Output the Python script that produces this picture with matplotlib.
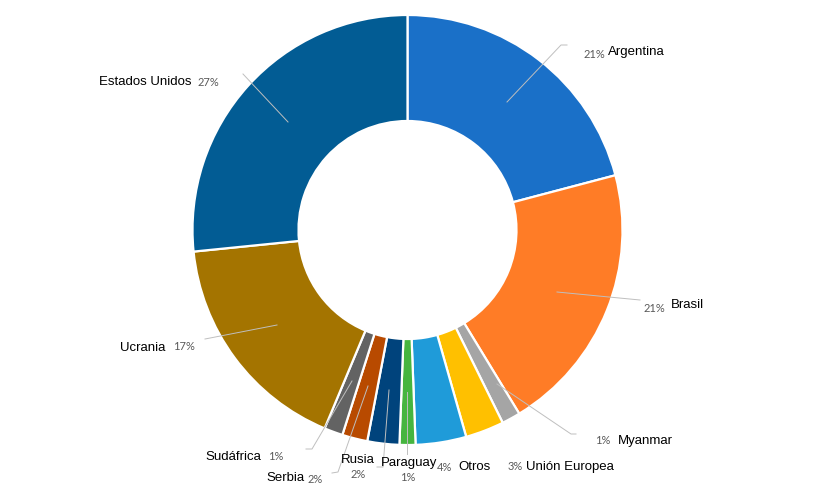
import matplotlib
matplotlib.use("Agg")
import matplotlib.pyplot as plt

categories = ["Argentina", "Brasil", "Myanmar", "Unión Europea", "Otros", "Paraguay",
              "Rusia", "Serbia", "Sudáfrica", "Ucrania", "Estados Unidos"]
values = [20.9, 20.4, 1.4, 2.9, 3.8, 1.2, 2.4, 1.9, 1.4, 17.1, 26.6]
percent_labels = ["21%", "21%", "1%", "3%", "4%", "1%", "2%", "2%", "1%", "17%", "27%"]
colors = ["#1A70C8", "#FF7C26", "#A5A5A5", "#FFC000", "#1F9BD9", "#46B53F",
          "#00437C", "#B84A00", "#636363", "#A47400", "#025C94"]

W, H = 820, 488
CX, CY, R, R_IN = 407.5, 230, 215, 109

# name position (x, y, ha), percent position (x, y, ha), in image pixels
name_pos = [(608, 52, "left"), (671, 305, "left"), (618, 441, "left"), (526, 467, "left"),
            (458, 467, "left"), (381, 463, "left"), (341, 460, "left"), (266, 478, "left"),
            (205, 457, "left"), (120, 348, "left"), (99, 82, "left")]
pct_pos = [(584, 54, "left"), (644, 308, "left"), (595, 441, "left"), (508, 467, "left"),
           (437, 468, "left"), (400, 478, "left"), (351, 475, "left"), (308, 480, "left"),
           (268, 457, "left"), (173, 347, "left"), (198, 82, "left")]
leaders = [
    [(507, 102), (561, 45), (567, 45)],
    [(557, 292), (640, 300)],
    [(497, 384), (571, 434), (576, 434)],
    None,
    None,
    [(407, 392), (407, 454)],
    [(389, 390), (383, 467), (377, 467)],
    [(368, 386), (338, 472), (332, 473)],
    [(352, 381), (312, 449), (306, 449)],
    [(277, 325), (205, 339)],
    [(288, 122), (243, 74)],
]

fig = plt.figure(figsize=(W / 100, H / 100), dpi=100)
ax = fig.add_axes([0, 0, 1, 1])
ax.pie(values, colors=colors, startangle=90, counterclock=False, radius=R,
       center=(CX, H - CY), wedgeprops=dict(width=R - R_IN, edgecolor="white", linewidth=1.6))
ax.set_xlim(0, W)
ax.set_ylim(0, H)
ax.set_aspect("equal")
ax.axis("off")

for cat, pct, np_, pp, lead in zip(categories, percent_labels, name_pos, pct_pos, leaders):
    if lead:
        ax.plot([p[0] for p in lead], [H - p[1] for p in lead], color="#BFBFBF", lw=0.7, zorder=5)
    ax.text(np_[0], H - np_[1], cat, ha=np_[2], va="center", family="Liberation Sans",
            fontsize=9.5, color="#000000", zorder=6)
    ax.text(pp[0], H - pp[1], pct, ha=pp[2], va="center", family="Lato",
            fontsize=8, color="#595959", zorder=6)

fig.savefig("out.png", dpi=100, facecolor="white")
